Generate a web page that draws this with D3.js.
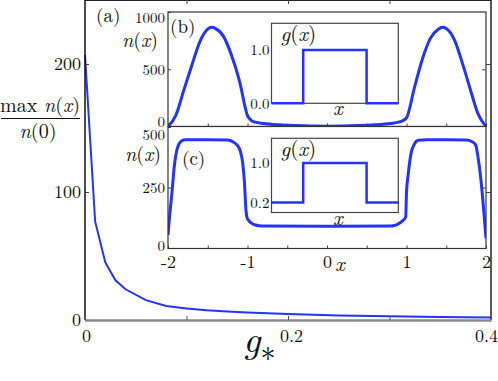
<!DOCTYPE html>
<html>
<head>
<meta charset="utf-8">
<script src="https://cdn.jsdelivr.net/npm/d3@7"></script>
<style>
  body { margin: 0; background: #fff; }
</style>
</head>
<body>
<div id="chart"></div>
<script>
var W = 498, H = 381;
var FONT = '"Latin Modern Roman"';

// main panel (a): max n(x)/n(0) versus g*
var gStar   = [0, 0.01, 0.02, 0.03, 0.04, 0.06, 0.08, 0.1, 0.12, 0.14, 0.16, 0.2, 0.25, 0.3, 0.35, 0.4];
var ratio   = [207, 77, 45, 31, 24, 15.5, 11, 9, 7.6, 6.6, 5.8, 4.6, 3.6, 2.9, 2.4, 2.0];
var mainXTicks = [0, 0.1, 0.2, 0.3, 0.4];
var mainXLabels = [0, 0.2, 0.4];
var mainYTicks = [0, 100, 200];

// inset (b): density n(x)
var xb = [-2, -1.9, -1.8, -1.7, -1.6, -1.5, -1.45, -1.4, -1.3, -1.2, -1.1, -1.0, -0.95, -0.9, -0.8, -0.6, -0.4, -0.2, 0,
          0.2, 0.4, 0.6, 0.8, 0.9, 0.95, 1.0, 1.1, 1.2, 1.3, 1.4, 1.45, 1.5, 1.6, 1.7, 1.8, 1.9, 2];
var nb = [0, 100, 320, 535, 740, 850, 866, 855, 785, 620, 395, 95, 52, 38, 27, 15, 8, 4, 3,
          4, 8, 15, 27, 38, 50, 75, 340, 590, 770, 850, 866, 855, 760, 560, 330, 110, 0];
var bYTicks = [0, 500, 1000];

// inset (c): density n(x)
var xc = [-2, -1.98, -1.95, -1.92, -1.88, -1.83, -1.78, -1.5, -1.25, -1.18, -1.13, -1.09, -1.06, -1.04, -1.02, -1.0,
          -0.95, -0.9, -0.85, -0.8, 0, 0.8, 0.85, 0.9, 0.95, 0.99, 1.0, 1.02, 1.06, 1.1, 1.15, 1.25, 1.5, 1.75,
          1.82, 1.87, 1.9, 1.93, 1.96, 2.0];
var nc = [54, 130, 230, 340, 415, 442, 447, 447, 446, 438, 425, 400, 350, 280, 160, 120,
          103, 95, 92, 91, 90, 91, 93, 100, 112, 128, 230, 300, 395, 430, 445, 447, 447, 446,
          440, 426, 375, 300, 200, 40];
var cYTicks = [0, 250, 500];
var xTicks = [-2, -1.5, -1, -0.5, 0, 0.5, 1, 1.5, 2];
var xLabels = [-2, -1, 0, 1, 2];

// small insets: g(x)
var gx = [-2, -1, -1, 1, 1, 2];
var gb = [0, 0, 1, 1, 0, 0];
var gc = [0.2, 0.2, 1, 1, 0.2, 0.2];

var blue = '#2433ff';

var svg = d3.select('#chart').append('svg')
            .attr('width', W)
            .attr('height', H);

function txt(xp, yp, size) {
  return svg.append('text').attr('x', xp).attr('y', yp).attr('font-size', size)
            .attr('fill', '#111').style('font-family', FONT);
}
function styleText(sel, size) {
  sel.attr('font-family', null);
  sel.selectAll('text').attr('font-size', size).attr('fill', '#111').style('font-family', FONT);
}
function mathNx(t, letter, arg) {
  t.append('tspan').style('font-style', 'italic').text(letter);
  t.append('tspan').text('(');
  if (arg === 'x') t.append('tspan').style('font-style', 'italic').text('x');
  else t.append('tspan').text(arg);
  t.append('tspan').text(')');
}

// ---------- main panel ----------
var x = d3.scaleLinear().domain([0, 0.4]).range([85, 491]);
var y = d3.scaleLinear().domain([0, 250]).range([320, 0]);

var line = d3.line().x(function(d, i){ return x(gStar[i]); }).y(function(d){ return y(d); });

svg.append('path')
   .attr('d', line(ratio))
   .attr('fill', 'none')
   .attr('stroke', blue)
   .attr('stroke-width', 2);

// frame: top and right
svg.append('line').attr('x1', x(0)).attr('x2', x(0.4)).attr('y1', 0.5).attr('y2', 0.5)
   .attr('stroke', '#222').attr('stroke-width', 1);
svg.append('line').attr('x1', x(0.4)).attr('x2', x(0.4)).attr('y1', 0).attr('y2', y(0))
   .attr('stroke', '#222').attr('stroke-width', 1.5);

var yAx = svg.append('g')
   .attr('transform', 'translate(' + x(0) + ',0)')
   .call(d3.axisLeft(y).tickValues(mainYTicks).tickSize(-4).tickSizeOuter(0).tickPadding(4));
yAx.select('.domain').remove();
yAx.selectAll('line').attr('stroke', '#444');
styleText(yAx, 18);
svg.append('line').attr('x1', x(0)).attr('x2', x(0)).attr('y1', 0).attr('y2', y(0))
   .attr('stroke', '#111').attr('stroke-width', 1.5);

var rAx = svg.append('g')
   .attr('transform', 'translate(' + x(0.4) + ',0)')
   .call(d3.axisRight(y).tickValues([100, 200]).tickSize(-5).tickFormat(''));
rAx.select('.domain').remove();
rAx.selectAll('line').attr('stroke', '#444');

var tAx = svg.append('g')
   .call(d3.axisTop(x).tickValues([0.1, 0.2, 0.3]).tickSize(-4).tickFormat(''));
tAx.select('.domain').remove();
tAx.selectAll('line').attr('stroke', '#444');

var xAx = svg.append('g')
   .attr('transform', 'translate(0,' + y(0) + ')')
   .call(d3.axisBottom(x).tickValues(mainXTicks).tickSize(-4).tickSizeOuter(0).tickPadding(9)
          .tickFormat(function(d){ return mainXLabels.indexOf(d) >= 0 ? String(d) : ''; }));
xAx.select('.domain').attr('stroke', '#888').attr('stroke-width', 2.5);
xAx.selectAll('line').attr('stroke', '#555');
styleText(xAx, 18);
xAx.selectAll('text').attr('dx', function(d){ return d === 0.4 ? -5 : (d === 0.2 ? 3 : 1); });

// y label: fraction
var fr = txt(40, 112, 20).attr('text-anchor', 'middle');
fr.append('tspan').text('max ');
mathNx(fr, 'n', 'x');
svg.append('line').attr('x1', 1).attr('x2', 80).attr('y1', 118.5).attr('y2', 118.5)
   .attr('stroke', '#111').attr('stroke-width', 1.2);
mathNx(txt(38, 138, 20).attr('text-anchor', 'middle'), 'n', '0');

// x label g*
var gl = txt(243, 352, 38);
gl.append('tspan').style('font-style', 'italic').text('g');
gl.append('tspan').attr('font-size', 30).attr('dy', 9).text('\u2217');

txt(96, 22, 19).text('(a)');

// ---------- insets (b) and (c) ----------
var xi = d3.scaleLinear().domain([-2, 2]).range([168, 486]);
var yb = d3.scaleLinear().domain([0, 1000]).range([126.5, 12]);
var yc = d3.scaleLinear().domain([0, 500]).range([248, 127]);

function panel(yS, top, bottom, yTicks, id, xs, ns, labelX, nudge) {
  svg.append('rect').attr('x', xi(-2)).attr('y', top).attr('width', xi(2) - xi(-2)).attr('height', bottom - top)
     .attr('fill', '#fff');
  svg.append('clipPath').attr('id', id).append('rect')
     .attr('x', xi(-2)).attr('y', top - 2).attr('width', xi(2) - xi(-2)).attr('height', bottom - top + 2);
  var ln = d3.line().x(function(d, i){ return xi(xs[i]); }).y(function(d){ return yS(d); })
             .curve(d3.curveMonotoneX);
  svg.append('path').attr('d', ln(ns)).attr('fill', 'none').attr('stroke', blue)
     .attr('stroke-width', 3).attr('clip-path', 'url(#' + id + ')');

  var l = svg.append('g').attr('transform', 'translate(' + xi(-2) + ',0)')
     .call(d3.axisLeft(yS).tickValues(yTicks).tickSize(-3).tickPadding(3).tickFormat(d3.format('d')));
  l.select('.domain').remove();
  l.selectAll('line').attr('stroke', '#444');
  styleText(l, 15);
  l.selectAll('text').attr('dy', function(d){ return nudge(d) + 'px'; });

  var r = svg.append('g').attr('transform', 'translate(' + xi(2) + ',0)')
     .call(d3.axisRight(yS).tickValues([yTicks[1]]).tickSize(-4).tickFormat(''));
  r.select('.domain').remove();
  r.selectAll('line').attr('stroke', '#444');

  var b = svg.append('g').attr('transform', 'translate(0,' + bottom + ')')
     .call(d3.axisBottom(xi).tickValues(xTicks).tickSize(-3).tickPadding(7)
            .tickFormat(function(d){ return labelX && xLabels.indexOf(d) >= 0 ? String(d) : ''; }));
  b.select('.domain').remove();
  b.selectAll('line').attr('stroke', '#444');
  styleText(b, 18);

  svg.append('rect').attr('x', xi(-2)).attr('y', top).attr('width', xi(2) - xi(-2)).attr('height', bottom - top)
     .attr('fill', 'none').attr('stroke', '#333').attr('stroke-width', 1.2);
}

panel(yb, 12, 126.5, bYTicks, 'clipB', xb, nb, false,
      function(d){ return d === 0 ? -0.5 : (d === 1000 ? 10 : 5.5); });
panel(yc, 126.5, 248.5, cYTicks, 'clipC', xc, nc, true,
      function(d){ return d === 500 ? 12 : (d === 0 ? 2 : 5); });

mathNx(txt(122, 47, 20), 'n', 'x');
mathNx(txt(125, 161, 20), 'n', 'x');
txt(170, 33, 19).text('(b)');
txt(182, 165, 19).text('(c)');
txt(335, 271, 21).style('font-style', 'italic').text('x');

// ---------- g(x) insets ----------
var gxS = d3.scaleLinear().domain([-2, 2]).range([271.5, 398.3]);

function gInset(top, bottom, gs, tickV, tickL) {
  var gy = d3.scaleLinear().domain([0, 1.5]).range([bottom, top]);
  svg.append('rect').attr('x', gxS(-2)).attr('y', top).attr('width', gxS(2) - gxS(-2)).attr('height', bottom - top)
     .attr('fill', '#fff').attr('stroke', '#444').attr('stroke-width', 1.2);
  var a = svg.append('g').attr('transform', 'translate(' + gxS(-2) + ',0)')
     .call(d3.axisLeft(gy).tickValues(tickV).tickSize(0).tickPadding(2)
            .tickFormat(function(d, i){ return tickL[i]; }));
  a.select('.domain').remove();
  styleText(a, 15);
  var ln = d3.line().x(function(d, i){ return gxS(gx[i]); }).y(function(d){ return gy(d); });
  svg.append('path').attr('d', ln(gs)).attr('fill', 'none').attr('stroke', blue).attr('stroke-width', 2.5);
  mathNx(txt(gxS(-2) + 9, top + 18, 21), 'g', 'x');
  txt(gxS(0) - 2, bottom + 12, 21).style('font-style', 'italic').text('x');
}
gInset(23.3, 103.3, gb, [0, 1], ['0.0', '1.0']);
gInset(138.3, 212.5, gc, [0.2, 1], ['0.2', '1.0']);
</script>
</body>
</html>
